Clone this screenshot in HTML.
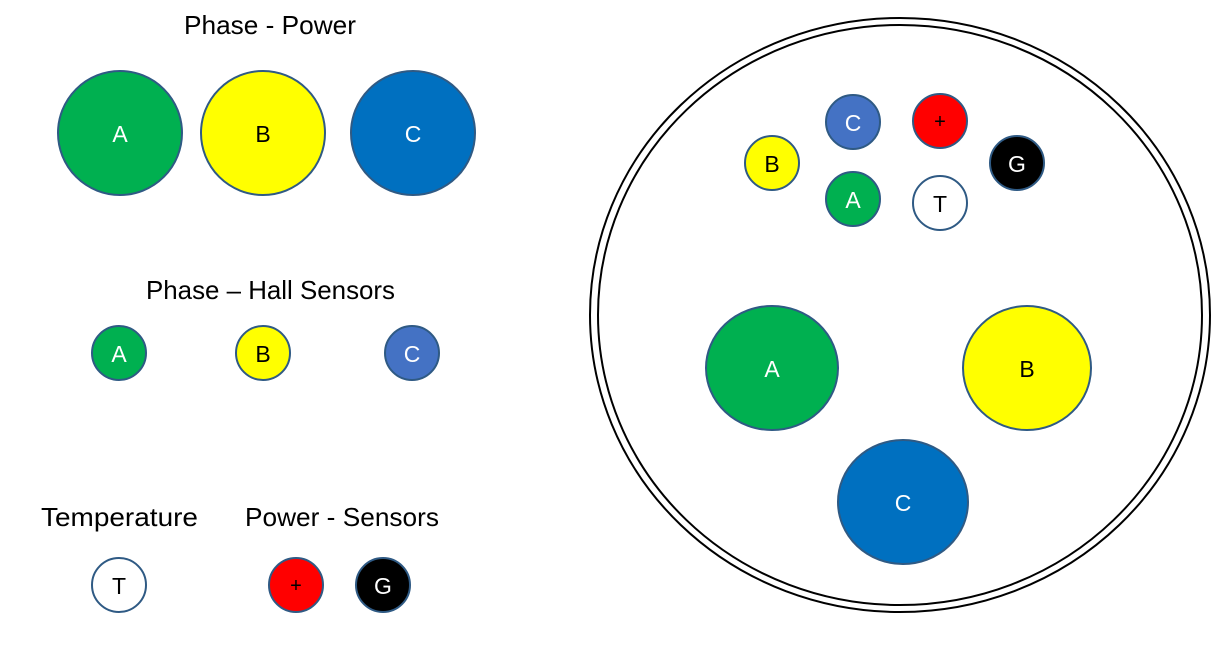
<!DOCTYPE html>
<html><head><style>body{margin:0;background:#fff}svg{display:block}</style></head><body>
<svg width="1232" height="648" viewBox="0 0 1232 648" xmlns="http://www.w3.org/2000/svg" font-family="Liberation Sans, sans-serif">
<g stroke="#2F5A84" stroke-width="2">
<circle cx="120" cy="133" r="62" fill="#00B050"/>
<circle cx="263" cy="133" r="62" fill="#FFFF00"/>
<circle cx="413" cy="133" r="62" fill="#0070C0"/>
<circle cx="119" cy="353" r="27" fill="#00B050"/>
<circle cx="263" cy="353" r="27" fill="#FFFF00"/>
<circle cx="412" cy="353" r="27" fill="#4472C4"/>
<circle cx="119" cy="585" r="27" fill="#fff"/>
<circle cx="296" cy="585" r="27" fill="#FF0000"/>
<circle cx="383" cy="585" r="27" fill="#000"/>
</g>
<ellipse cx="900" cy="315" rx="310" ry="297" fill="none" stroke="#000" stroke-width="2"/>
<ellipse cx="900" cy="315" rx="302" ry="290" fill="none" stroke="#000" stroke-width="2"/>
<g stroke="#2F5A84" stroke-width="2">
<circle cx="853" cy="122" r="27" fill="#4472C4"/>
<circle cx="940" cy="121" r="27" fill="#FF0000"/>
<circle cx="772" cy="163" r="27" fill="#FFFF00"/>
<circle cx="1017" cy="163" r="27" fill="#000"/>
<circle cx="853" cy="199" r="27" fill="#00B050"/>
<circle cx="940" cy="203" r="27" fill="#fff"/>
<ellipse cx="772" cy="368" rx="66" ry="62" fill="#00B050"/>
<ellipse cx="1027" cy="368" rx="64" ry="62" fill="#FFFF00"/>
<ellipse cx="903" cy="502" rx="65" ry="62" fill="#0070C0"/>
</g>
<g font-size="26" fill="#000">
<text x="184" y="34" textLength="172" lengthAdjust="spacingAndGlyphs">Phase - Power</text>
<text x="146" y="299" textLength="249" lengthAdjust="spacingAndGlyphs">Phase – Hall Sensors</text>
<text x="41" y="526" textLength="157" lengthAdjust="spacingAndGlyphs">Temperature</text>
<text x="245" y="526" textLength="194" lengthAdjust="spacingAndGlyphs">Power - Sensors</text>
</g>
<g font-size="23" text-anchor="middle" dominant-baseline="central">
<text x="120" y="134" fill="#fff">A</text>
<text x="263" y="134" fill="#000">B</text>
<text x="413" y="134" fill="#fff">C</text>
<text x="119" y="354" fill="#fff">A</text>
<text x="263" y="354" fill="#000">B</text>
<text x="412" y="354" fill="#fff">C</text>
<text x="119" y="586" fill="#000">T</text>
<text x="296" y="586" fill="#000" font-size="20">+</text>
<text x="383" y="586" fill="#fff">G</text>
<text x="853" y="123" fill="#fff">C</text>
<text x="940" y="122" fill="#000" font-size="20">+</text>
<text x="772" y="164" fill="#000">B</text>
<text x="1017" y="164" fill="#fff">G</text>
<text x="853" y="200" fill="#fff">A</text>
<text x="940" y="204" fill="#000">T</text>
<text x="772" y="369" fill="#fff">A</text>
<text x="1027" y="369" fill="#000">B</text>
<text x="903" y="503" fill="#fff">C</text>
</g>
</svg>
</body></html>
